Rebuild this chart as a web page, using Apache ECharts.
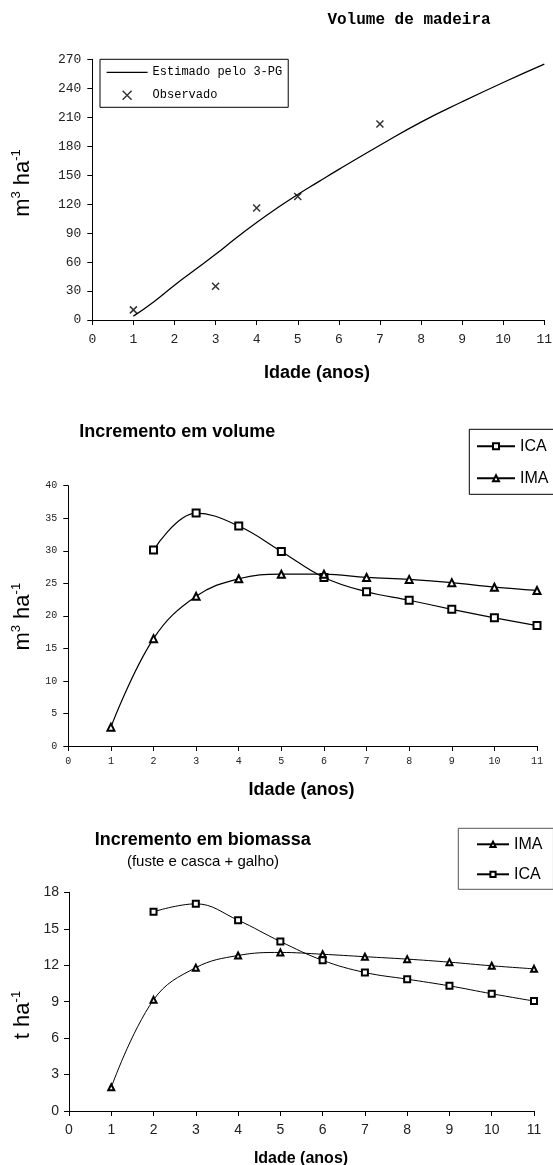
<!DOCTYPE html>
<html>
<head>
<meta charset="utf-8">
<script src="https://cdn.jsdelivr.net/npm/echarts@6/dist/echarts.min.js"></script>
<style>html,body{margin:0;padding:0;background:#fff}#c{width:553px;height:1165px}</style>
</head>
<body>
<div id="c"></div>
<script>
// ---- Data ----
const volModelAge = [1, 1.5, 2, 2.5, 3, 3.5, 4, 4.5, 5, 5.5, 6, 7, 8, 9, 10, 11];
const volModel    = [4, 19, 36, 52, 68, 85, 101, 116, 130, 143, 156, 181, 205, 226, 246, 265];
const obsAge      = [1, 3, 4, 5, 7];
const obsVol      = [10.5, 35, 116, 128, 203];

const ages   = [1, 2, 3, 4, 5, 6, 7, 8, 9, 10, 11];
const volIMA = [2.9, 16.5, 23.0, 25.7, 26.4, 26.4, 25.9, 25.6, 25.1, 24.4, 23.9];
const volICA = [null, 30.1, 35.8, 33.8, 29.9, 25.9, 23.7, 22.4, 21.0, 19.7, 18.5];
const bioIMA = [1.95, 9.15, 11.8, 12.8, 13.05, 12.9, 12.7, 12.5, 12.25, 11.95, 11.7];
const bioICA = [null, 16.4, 17.05, 15.7, 13.95, 12.4, 11.4, 10.85, 10.3, 9.65, 9.05];

const xTicks = { min: 0, max: 11, interval: 1 };
const yTicks1 = { min: 0, max: 270, interval: 30 };
const yTicks2 = { min: 0, max: 40, interval: 5 };
const yTicks3 = { min: 0, max: 18, interval: 3 };

// ---- helpers ----
const pairs = (xs, ys) => xs.map((x, i) => [x, ys[i]]).filter(p => p[1] != null);
const MONO = "'Liberation Mono','Courier New',monospace";
const SANS = "'Liberation Sans',Arial,sans-serif";
const X_PATH = 'path://M0,0L10,10M10,0L0,10';

function axisBase(gridIndex, ticks, labelFont, labelSize, margin) {
  return {
    type: 'value', gridIndex, min: ticks.min, max: ticks.max, interval: ticks.interval,
    axisLine: { show: true, onZero: false, lineStyle: { color: '#000', width: 1 } },
    axisTick: { show: true, inside: false, length: 5, lineStyle: { color: '#000', width: 1 } },
    axisLabel: { color: '#222', fontFamily: labelFont, fontSize: labelSize, margin },
    splitLine: { show: false }
  };
}

function yTitle(x, y, first, sup1, second, sup2) {
  return {
    type: 'text', x, y, rotation: Math.PI / 2,
    style: {
      text: '{a|' + first + '}{s|' + sup1 + '}{a|' + second + '}{s|' + sup2 + '}',
      rich: {
        a: { fontSize: 22, fontFamily: SANS, fill: '#000', verticalAlign: 'bottom', lineHeight: 24 },
        s: { fontSize: 13, fontFamily: SANS, fill: '#000', verticalAlign: 'top', lineHeight: 24 }
      },
      align: 'center', verticalAlign: 'middle'
    }
  };
}

const chart = echarts.init(document.getElementById('c'), null, { renderer: 'canvas' });
chart.setOption({
  animation: false,
  backgroundColor: '#fff',
  grid: [
    { left: 92.3, right: 8.7, top: 59.3, bottom: 845, containLabel: false, outerBoundsMode: 'none' },
    { left: 68.3, right: 16, top: 485.7, bottom: 419, containLabel: false, outerBoundsMode: 'none' },
    { left: 69, right: 19, top: 892.3, bottom: 54, containLabel: false, outerBoundsMode: 'none' }
  ],
  xAxis: [
    axisBase(0, xTicks, MONO, 13, 13),
    axisBase(1, xTicks, MONO, 10, 10),
    axisBase(2, xTicks, SANS, 14, 12)
  ],
  yAxis: [
    axisBase(0, yTicks1, MONO, 13, 11),
    axisBase(1, yTicks2, MONO, 10, 11),
    axisBase(2, yTicks3, SANS, 14, 10)
  ],
  legend: [
    {
      orient: 'vertical', left: 100, top: 59.3,
      padding: [7, 6, 5, 6], itemGap: 10, itemWidth: 41, itemHeight: 9,
      borderColor: '#000', borderWidth: 1, backgroundColor: '#fff',
      textStyle: { fontFamily: MONO, fontSize: 12, color: '#000' },
      data: [
        { name: 'Estimado pelo 3-PG', icon: 'line', itemStyle: { borderColor: '#000', borderWidth: 1.2, color: '#000' } },
        { name: 'Observado', icon: X_PATH, itemStyle: { color: 'none', borderColor: '#000', borderWidth: 1.5 } }
      ],
      selectedMode: false
    },
    {
      orient: 'vertical', left: 469.3, top: 429.3,
      padding: [9, 6, 8, 6.7], itemGap: 16, itemWidth: 38, itemHeight: 7.5,
      borderColor: '#000', borderWidth: 1, backgroundColor: '#fff',
      textStyle: { fontFamily: SANS, fontSize: 16, color: '#000' },
      data: ['ICA', 'IMA'], selectedMode: false
    },
    {
      orient: 'vertical', left: 458.3, top: 828.3,
      padding: [8, 11, 7, 17.7], itemGap: 14, itemWidth: 32, itemHeight: 6.5,
      borderColor: '#555', borderWidth: 1, backgroundColor: '#fff',
      textStyle: { fontFamily: SANS, fontSize: 16, color: '#000' },
      data: ['IMA', 'ICA'], selectedMode: false
    }
  ],
  graphic: [
    { type: 'text', x: 409, y: 20, style: { text: 'Volume de madeira', font: 'bold 16px ' + MONO, fill: '#000', align: 'center', verticalAlign: 'middle' } },
    { type: 'text', x: 317, y: 373, style: { text: 'Idade (anos)', font: 'bold 18px ' + SANS, fill: '#000', align: 'center', verticalAlign: 'middle' } },
    yTitle(21.7, 183, 'm', '3', ' ha', '-1'),

    { type: 'text', x: 79.3, y: 431.7, style: { text: 'Incremento em volume', font: 'bold 18px ' + SANS, fill: '#000', align: 'left', verticalAlign: 'middle' } },
    { type: 'text', x: 301.5, y: 790, style: { text: 'Idade (anos)', font: 'bold 18px ' + SANS, fill: '#000', align: 'center', verticalAlign: 'middle' } },
    yTitle(21.7, 616.7, 'm', '3', ' ha', '-1'),

    { type: 'text', x: 202.8, y: 840, style: { text: 'Incremento em biomassa', font: 'bold 18px ' + SANS, fill: '#000', align: 'center', verticalAlign: 'middle' } },
    { type: 'text', x: 203, y: 861.7, style: { text: '(fuste e casca + galho)', font: '15px ' + SANS, fill: '#000', align: 'center', verticalAlign: 'middle' } },
    { type: 'text', x: 301, y: 1158.3, style: { text: 'Idade (anos)', font: 'bold 16px ' + SANS, fill: '#000', align: 'center', verticalAlign: 'middle' } },
    yTitle(21.7, 1015, 't', '', ' ha', '-1')
  ],
  series: [
    {
      name: 'Estimado pelo 3-PG', type: 'line', xAxisIndex: 0, yAxisIndex: 0,
      data: pairs(volModelAge, volModel), smooth: true, symbol: 'none',
      lineStyle: { color: '#000', width: 1.3 }, itemStyle: { color: '#000', borderColor: '#000', borderWidth: 1.2 }
    },
    {
      name: 'Observado', type: 'scatter', xAxisIndex: 0, yAxisIndex: 0,
      data: pairs(obsAge, obsVol), symbol: X_PATH, symbolSize: 7, symbolKeepAspect: true,
      itemStyle: { color: 'none', borderColor: '#000', borderWidth: 1.5 }
    },
    {
      name: 'ICA', type: 'line', xAxisIndex: 1, yAxisIndex: 1,
      data: pairs(ages, volICA), smooth: 0.4, symbol: 'emptyRect', symbolSize: 7, showSymbol: true,
      lineStyle: { color: '#000', width: 1.2 }, itemStyle: { color: '#000', borderColor: '#000', borderWidth: 1.6 }
    },
    {
      name: 'IMA', type: 'line', xAxisIndex: 1, yAxisIndex: 1,
      data: pairs(ages, volIMA), smooth: 0.4, symbol: 'emptyTriangle', symbolSize: 7, showSymbol: true,
      lineStyle: { color: '#000', width: 1.2 }, itemStyle: { color: '#000', borderColor: '#000', borderWidth: 1.3 }
    },
    {
      name: 'IMA', type: 'line', xAxisIndex: 2, yAxisIndex: 2,
      data: pairs(ages, bioIMA), smooth: 0.4, symbol: 'emptyTriangle', symbolSize: 6, showSymbol: true,
      lineStyle: { color: '#000', width: 1 }, itemStyle: { color: '#000', borderColor: '#000', borderWidth: 1 }
    },
    {
      name: 'ICA', type: 'line', xAxisIndex: 2, yAxisIndex: 2,
      data: pairs(ages, bioICA), smooth: 0.4, symbol: 'emptyRect', symbolSize: 6, showSymbol: true,
      lineStyle: { color: '#000', width: 1 }, itemStyle: { color: '#000', borderColor: '#000', borderWidth: 1 }
    }
  ]
});
</script>
</body>
</html>
